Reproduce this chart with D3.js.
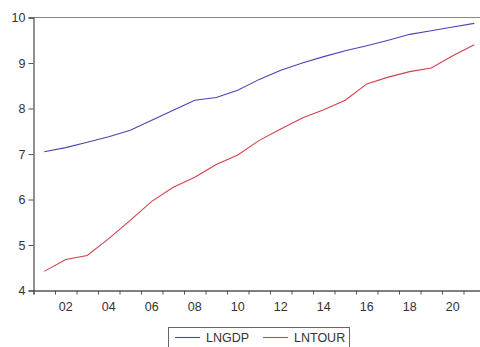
<!DOCTYPE html>
<html><head><meta charset="utf-8">
<script src="https://cdn.jsdelivr.net/npm/d3@7"></script>
<style>
html,body{margin:0;padding:0;background:#fff;overflow:hidden;}
text{font-family:"Liberation Sans",Arial,sans-serif;}
</style></head>
<body>
<svg id="c" width="480" height="347"></svg>
<script>
const years = [2001,2002,2003,2004,2005,2006,2007,2008,2009,2010,2011,2012,2013,2014,2015,2016,2017,2018,2019,2020,2021];
const lngdp = [7.05,7.14,7.26,7.38,7.52,7.74,7.96,8.18,8.24,8.40,8.64,8.84,9.00,9.14,9.27,9.38,9.50,9.63,9.71,9.79,9.87];
const lntour = [4.42,4.68,4.77,5.14,5.54,5.96,6.27,6.49,6.77,6.98,7.30,7.55,7.79,7.97,8.18,8.54,8.69,8.81,8.89,9.16,9.40];
const yTicks = [4,5,6,7,8,9,10];
const xTickLabels = ["02","04","06","08","10","12","14","16","18","20"];
const seriesNames = ["LNGDP","LNTOUR"];
const colors = ["#4646b4","#d0404c"];

(function(){
const svg = d3.select("#c");
const mLeft = 33.5, mTop = 17.5, mBottom = 290.5;
const step = 21.5;
const x = d3.scaleLinear().domain([2001, 2022]).range([mLeft, mLeft + 21*step]);
const y = d3.scaleLinear().domain([4, 10]).range([mBottom, mTop]);
const axisColor = "#555";

// top border
svg.append("line").attr("x1", mLeft).attr("x2", 480).attr("y1", mTop).attr("y2", mTop)
  .attr("stroke", "#888").attr("stroke-width", 1.2);

// y axis
const ya = svg.append("g").attr("transform", `translate(${mLeft},0)`)
  .call(d3.axisLeft(y).tickValues(yTicks).tickSize(5).tickPadding(3).tickFormat(d3.format("d")));
ya.select(".domain").attr("stroke", axisColor).attr("stroke-width", 1.3);
ya.selectAll(".tick line").attr("stroke", axisColor);
ya.selectAll(".tick text").attr("fill", "#333").attr("font-size", 12.5).style("font-family", "'Liberation Sans',Arial,sans-serif");

// x axis: ticks at year boundaries, labels at year centres
const tickYears = d3.range(2001, 2022);
const xa = svg.append("g").attr("transform", `translate(0,${mBottom})`)
  .call(d3.axisBottom(x).tickValues(tickYears).tickSize(4).tickFormat(""));
xa.select(".domain").attr("stroke", axisColor).attr("stroke-width", 1.3);
xa.selectAll(".tick line").attr("stroke", axisColor);
const labelYears = xTickLabels.map(s => 2000 + (+s));
svg.append("g").selectAll("text").data(labelYears).join("text")
  .attr("x", d => x(d + 0.5)).attr("y", mBottom + 20)
  .attr("text-anchor", "middle").attr("fill", "#333").attr("font-size", 12.5)
  .text((d, i) => xTickLabels[i]);

// lines
const line = d3.line().x((d, i) => x(years[i] + 0.5)).y(d => y(d));
[lngdp, lntour].forEach((s, k) => {
  svg.append("path").datum(s).attr("d", line).attr("fill", "none")
    .attr("stroke", colors[k]).attr("stroke-width", 1.1);
});

// legend
const lg = svg.append("g");
lg.append("rect").attr("x", 168.5).attr("y", 327.5).attr("width", 181).attr("height", 30)
  .attr("fill", "#fff").attr("stroke", "#666").attr("stroke-width", 1);
const legX = [175, 263];
seriesNames.forEach((n, k) => {
  lg.append("line").attr("x1", legX[k]).attr("x2", legX[k] + 25).attr("y1", 337.5).attr("y2", 337.5)
    .attr("stroke", colors[k]).attr("stroke-width", 1.1);
  lg.append("text").attr("x", legX[k] + 31).attr("y", 342).attr("fill", "#333")
    .attr("font-size", 12.5).text(n);
});
})();
</script>
</body></html>
